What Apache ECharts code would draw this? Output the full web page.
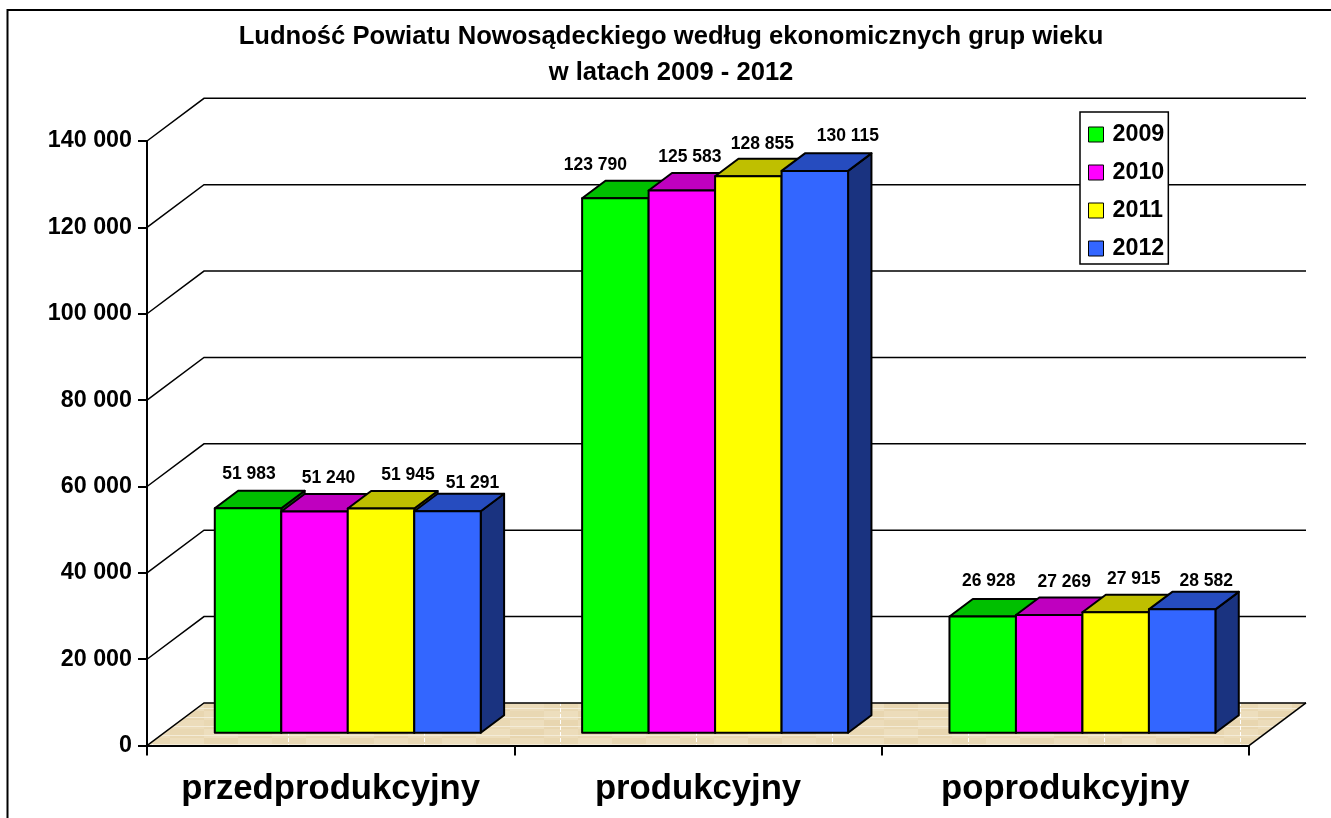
<!DOCTYPE html>
<html><head><meta charset="utf-8">
<style>html,body{margin:0;padding:0;background:#fff}#c{position:absolute;left:0;top:0;width:1331px;height:818px}</style>
<script src="https://cdn.jsdelivr.net/npm/echarts@6/dist/echarts.min.js"></script>
</head><body><div id="c"></div>
<script>
const categories = ['przedprodukcyjny', 'produkcyjny', 'poprodukcyjny'];
const years = ['2009', '2010', '2011', '2012'];
const values2009 = [51983, 123790, 26928];
const values2010 = [51240, 125583, 27269];
const values2011 = [51945, 128855, 27915];
const values2012 = [51291, 130115, 28582];
const yTicks = [0, 20000, 40000, 60000, 80000, 100000, 120000, 140000];
const titleLines = 'Ludność Powiatu Nowosądeckiego według ekonomicznych grup wieku\nw latach 2009 - 2012';

const yearValues = [values2009, values2010, values2011, values2012];
const frontColors = ['#00FF00', '#FF00FF', '#FFFF00', '#3366FF'];
const topColors = ['#00BF00', '#BF00BF', '#BFBF00', '#264CBF'];
const sideColors = ['#008000', '#800080', '#808000', '#1A3380'];
// manual label placement [dx, dy] from the bar's front-top centre: [year][category]
const labelNudge = [
  [[1, -34], [-20, -33], [6, -35]],
  [[14, -33], [8, -33], [15, -33]],
  [[27, -33], [14, -32], [18, -33]],
  [[25, -28], [33, -35], [24, -28]]
];

const FONT = '"Liberation Sans", Arial, sans-serif';
const INK = '#000';
const DEPTH_X = 57, DEPTH_Y = 42.7;     // full floor depth in px
const BAR_START = 0.3, BAR_DEPTH = 0.41; // bar position within floor depth
const BAR_FRAC = 0.181;                  // one bar's width as part of the category

function floorTexture() {
  const w = 136, h = 36;
  const cv = document.createElement('canvas');
  cv.width = w; cv.height = h;
  const g = cv.getContext('2d');
  g.fillStyle = '#EAD9B5';
  g.fillRect(0, 0, w, h);
  const tones = ['#E8D6B0', '#ECDCBA', '#E9D8B3', '#EDDEBD'];
  for (let yy = 0; yy < h; yy += 9) {
    for (let xx = 0; xx < w; xx += 34) {
      g.fillStyle = tones[(xx / 34 + yy / 9) % 4];
      g.fillRect(xx, yy, 34, 9);
    }
    g.fillStyle = '#F4ECD8';
    g.fillRect(0, (yy + 6) % h, w, 1);
  }
  g.fillStyle = '#FFFFFF';
  for (let yy = 0; yy < h; yy += 6) g.fillRect(16, yy, 1, 4);
  return cv;
}
const texture = floorTexture();

function renderWall(params, api) {
  const v = api.value(0);
  const cs = params.coordSys;
  const y = api.coord([0, v])[1];
  const x0 = cs.x, x1 = cs.x + cs.width;
  const children = [];
  const line = { stroke: INK, lineWidth: 1.5, fill: null };
  if (v === 0) {
    children.push({ type: 'polygon', shape: { points: [[x0, y], [x0 + DEPTH_X, y - DEPTH_Y], [x1 + DEPTH_X, y - DEPTH_Y], [x1, y]] },
      style: { fill: { image: texture, repeat: 'repeat' }, stroke: null } });
  }
  children.push({ type: 'polyline', shape: { points: [[x0, y], [x0 + DEPTH_X, y - DEPTH_Y], [x1 + DEPTH_X, y - DEPTH_Y]] }, style: line });
  if (v === 0) {
    children.push({ type: 'line', shape: { x1: x1, y1: y, x2: x1 + DEPTH_X, y2: y - DEPTH_Y }, style: line });
  }
  return { type: 'group', silent: true, children };
}

function makeBarRender(si) {
  return function (params, api) {
    const cat = api.value(0), val = api.value(1);
    const base = api.coord([cat, 0]);
    const top = api.coord([cat, val]);
    const cw = api.size([1, 0])[0];
    const bw = cw * BAR_FRAC;
    const ox = DEPTH_X * BAR_START, oy = DEPTH_Y * BAR_START;
    const dx = DEPTH_X * BAR_DEPTH, dy = DEPTH_Y * BAR_DEPTH;
    const xl = base[0] + ox - 2 * bw + si * bw, xr = xl + bw;
    const yb = base[1] - oy, yt = top[1] - oy;
    const edge = { stroke: INK, lineWidth: 2, lineJoin: 'round' };
    const n = labelNudge[si][cat];
    return { type: 'group', silent: true, children: [
      { type: 'polygon', shape: { points: [[xr, yb], [xr + dx, yb - dy], [xr + dx, yt - dy], [xr, yt]] },
        style: Object.assign({ fill: sideColors[si] }, edge) },
      { type: 'polygon', shape: { points: [[xl, yt], [xl + dx, yt - dy], [xr + dx, yt - dy], [xr, yt]] },
        style: Object.assign({ fill: topColors[si] }, edge) },
      { type: 'rect', shape: { x: xl, y: yt, width: bw, height: yb - yt },
        style: Object.assign({ fill: frontColors[si] }, edge) },
      { type: 'text', z2: 20, style: {
          x: (xl + xr) / 2 + n[0], y: yt + n[1],
          text: fmt(val), fill: INK, align: 'center', verticalAlign: 'middle',
          font: 'bold 17.5px ' + FONT } }
    ] };
  };
}
function fmt(v) { return String(v).replace(/\B(?=(\d{3})+$)/g, ' '); }

const chart = echarts.init(document.getElementById('c'), null, { renderer: 'canvas', width: 1331, height: 818 });
chart.setOption({
  animation: false,
  backgroundColor: '#fff',
  title: { text: titleLines, left: 666, top: 14, textAlign: 'center', itemGap: 0,
    textStyle: { fontFamily: FONT, fontWeight: 'bold', fontSize: 25.6, lineHeight: 36, color: INK } },
  legend: { show: true, data: years, orient: 'vertical', left: 1080, top: 112, selectedMode: false,
    backgroundColor: '#fff', borderColor: INK, borderWidth: 1.5, padding: [11, 4, 4, 8],
    itemWidth: 15, itemHeight: 15, itemGap: 15, icon: 'rect',
    itemStyle: { borderColor: INK, borderWidth: 1 },
    textStyle: { fontFamily: FONT, fontWeight: 'bold', fontSize: 23.3, color: INK, padding: [0, 0, 0, 4] } },
  grid: { left: 147, top: 141, width: 1102, height: 604.6, containLabel: false },
  xAxis: { type: 'category', data: categories, z: 6,
    axisLine: { lineStyle: { color: INK, width: 2 } },
    axisTick: { show: true, interval: 0, length: 10, lineStyle: { color: INK, width: 2 } },
    axisLabel: { interval: 0, margin: 26, color: INK, fontFamily: FONT, fontWeight: 'bold', fontSize: 34.7 },
    splitLine: { show: false } },
  yAxis: { type: 'value', min: 0, max: 140000, interval: 20000, z: 6,
    axisLine: { show: true, lineStyle: { color: INK, width: 2 } },
    axisTick: { show: true, length: 9, lineStyle: { color: INK, width: 2 } },
    axisLabel: { margin: 15, color: INK, fontFamily: FONT, fontWeight: 'bold', fontSize: 23.3, formatter: fmt },
    splitLine: { show: false } },
  series: [
    { type: 'custom', name: 'sciana', coordinateSystem: 'cartesian2d', silent: true, clip: false, z: 1,
      data: yTicks.map(v => [v]), encode: { y: 0 }, renderItem: renderWall }
  ].concat(years.map((y, si) => ({
    type: 'custom', name: y, coordinateSystem: 'cartesian2d', silent: true, clip: false, z: 2 + si * 0.01,
    itemStyle: { color: frontColors[si] },
    data: categories.map((c, i) => [i, yearValues[si][i]]),
    encode: { x: 0, y: 1 }, renderItem: makeBarRender(si)
  }))),
  graphic: [{ type: 'rect', silent: true, z: -1, shape: { x: 7.5, y: 10, width: 1400, height: 900 },
    style: { fill: null, stroke: INK, lineWidth: 2 } }]
});
</script></body></html>
